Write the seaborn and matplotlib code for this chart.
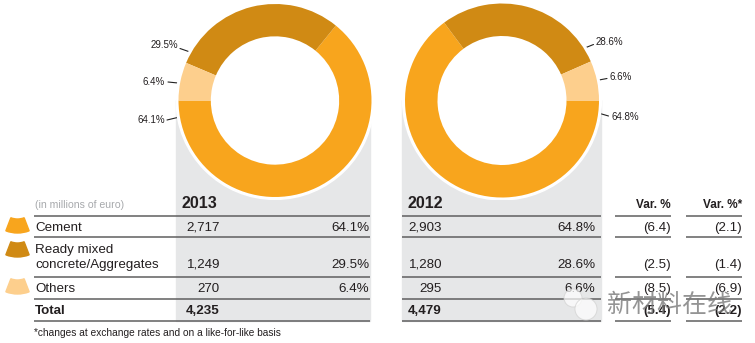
import matplotlib
matplotlib.use("Agg")
import matplotlib.pyplot as plt
from matplotlib.patches import Wedge, Rectangle, Circle
import seaborn as sns

sns.set_theme(style="white")
plt.rcParams['font.family'] = ['Liberation Sans', 'DejaVu Sans']

# ---- data ----
categories = ["Cement", "Ready mixed\nconcrete/Aggregates", "Others"]
values_2013 = [2717, 1249, 270]
values_2012 = [2903, 1280, 295]
share_2013 = ["64.1%", "29.5%", "6.4%"]
share_2012 = ["64.8%", "28.6%", "6.6%"]
var_pct = ["(6.4)", "(2.5)", "(8.5)", "(5.4)"]
var_pct_lfl = ["(2.1)", "(1.4)", "(6.9)", "(2.2)"]
total_2013 = "4,235"
total_2012 = "4,479"
years = ["2013", "2012"]
colors = ["#F8A51D", "#D08A14", "#FDCF8D"]

W, H = 755, 343
fig = plt.figure(figsize=(W / 100, H / 100), dpi=100)
bg = fig.add_axes([0, 0, 1, 1])
bg.set_xlim(0, W)
bg.set_ylim(H, 0)
bg.axis("off")

GRAY = "#E6E7E8"
LINE = "#5f5f5f"
TXT = "#231f20"

# gray panels
bg.add_patch(Rectangle((176, 100), 194, 221, color=GRAY, zorder=0))
bg.add_patch(Rectangle((402, 100), 198.5, 221, color=GRAY, zorder=0))


def donut(cx, cy, r, vals, start, ccw):
    a = fig.add_axes([(cx - r) / W, (H - cy - r) / H, 2 * r / W, 2 * r / H])
    a.add_patch(Circle((0, 0), 1.025, color="white", zorder=0))
    a.pie(vals, colors=colors, startangle=start, counterclock=ccw, radius=1,
          wedgeprops=dict(width=0.335, edgecolor="none", linewidth=0), frame=False)
    a.set_xlim(-1.03, 1.03)
    a.set_ylim(-1.03, 1.03)
    a.set_aspect("equal")
    a.axis("off")
    return a


donut(275, 100.5, 96.5 * 1.03, values_2013, 180, True)
donut(502, 100.5, 97 * 1.03, values_2012, 0, False)

# donut labels with leader lines
lab_fs = 7
lk = dict(color="#222222", lw=0.8, zorder=5)
# left donut
bg.text(178, 45, share_2013[1], ha="right", va="center", fontsize=lab_fs, color=TXT)
bg.plot([180, 190], [48.5, 52], **lk)
bg.text(165, 82, share_2013[2], ha="right", va="center", fontsize=lab_fs, color=TXT)
bg.plot([168, 178], [82, 83], **lk)
bg.text(165, 120, share_2013[0], ha="right", va="center", fontsize=lab_fs, color=TXT)
bg.plot([167, 177.5], [120, 117.5], **lk)
# right donut
bg.text(596, 42, share_2012[1], ha="left", va="center", fontsize=lab_fs, color=TXT)
bg.plot([586, 593.5], [47.5, 44.5], **lk)
bg.text(610, 77, share_2012[2], ha="left", va="center", fontsize=lab_fs, color=TXT)
bg.plot([599, 607], [80, 78.5], **lk)
bg.text(611, 117, share_2012[0], ha="left", va="center", fontsize=lab_fs, color=TXT)
bg.plot([600, 608.5], [113.5, 116], **lk)

# header
bg.text(35, 207.5, "(in millions of euro)", ha="left", va="baseline", fontsize=7.6, color="#A7A9AC")
bg.text(182, 207.7, years[0], ha="left", va="baseline", fontsize=11.5, fontweight="bold", color=TXT)
bg.text(407, 207.7, years[1], ha="left", va="baseline", fontsize=11.5, fontweight="bold", color=TXT)
bg.text(671, 207.5, "Var. %", ha="right", va="baseline", fontsize=8.5, fontweight="bold", color=TXT)
bg.text(742, 207.5, "Var. %*", ha="right", va="baseline", fontsize=8.5, fontweight="bold", color=TXT)

# horizontal rules
for y in [215.7, 237.3, 276.7, 299, 321]:
    bg.plot([34, 370], [y, y], color=LINE, lw=1.1, solid_capstyle="butt", zorder=3)
    bg.plot([402, 600.5], [y, y], color=LINE, lw=1.1, solid_capstyle="butt", zorder=3)
    bg.plot([615, 671], [y, y], color=LINE, lw=1.1, solid_capstyle="butt", zorder=3)
    bg.plot([686, 742], [y, y], color=LINE, lw=1.1, solid_capstyle="butt", zorder=3)

fs = 9.6
row_base = [230.7, 267.7, 291.7]
sw_top = [219, 243, 280]

for i in range(3):
    # swatch shaped like a bottom segment of a donut
    r_in, r_out = 18.5, 32.5
    bg.add_patch(Wedge((17.5, sw_top[i] - r_in), r_out, 69, 111, width=r_out - r_in,
                       color=colors[i], zorder=2))
    bg.text(35, row_base[i], categories[i], ha="left", va="baseline", fontsize=fs,
            color=TXT, linespacing=1.3)
    bg.text(220, row_base[i], f"{values_2013[i]:,}", ha="right", va="baseline", fontsize=fs, color=TXT)
    bg.text(369, row_base[i], share_2013[i], ha="right", va="baseline", fontsize=fs, color=TXT)
    bg.text(442, row_base[i], f"{values_2012[i]:,}", ha="right", va="baseline", fontsize=fs, color=TXT)
    bg.text(595, row_base[i], share_2012[i], ha="right", va="baseline", fontsize=fs, color=TXT)
    bg.text(671, row_base[i], var_pct[i], ha="right", va="baseline", fontsize=fs, color=TXT)
    bg.text(742, row_base[i], var_pct_lfl[i], ha="right", va="baseline", fontsize=fs, color=TXT)

# total row
tb = 314
bg.text(35, tb, "Total", ha="left", va="baseline", fontsize=fs, fontweight="bold", color=TXT)
bg.text(220, tb, total_2013, ha="right", va="baseline", fontsize=fs, fontweight="bold", color=TXT)
bg.text(442, tb, total_2012, ha="right", va="baseline", fontsize=fs, fontweight="bold", color=TXT)
bg.text(671, tb, var_pct[3], ha="right", va="baseline", fontsize=fs, fontweight="bold", color=TXT)
bg.text(742, tb, var_pct_lfl[3], ha="right", va="baseline", fontsize=fs, fontweight="bold", color=TXT)

# footnote
bg.text(34, 335.5, "*changes at exchange rates and on a like-for-like basis", ha="left",
        va="baseline", fontsize=7.3, color=TXT)

# watermark
bg.text(607, 305, "新材料在线", ha="left", va="center", fontsize=18,
        family=["Noto Sans CJK SC", "DejaVu Sans"], color="#7a7a7a", alpha=0.8, zorder=6)
bg.add_patch(Circle((573, 298), 9, facecolor="white", edgecolor="#d0d0d0", lw=0.7, alpha=0.7, zorder=6))
bg.add_patch(Circle((586, 309), 11, facecolor="white", edgecolor="#d0d0d0", lw=0.7, alpha=0.7, zorder=6))

fig.savefig("out.png", dpi=100)
